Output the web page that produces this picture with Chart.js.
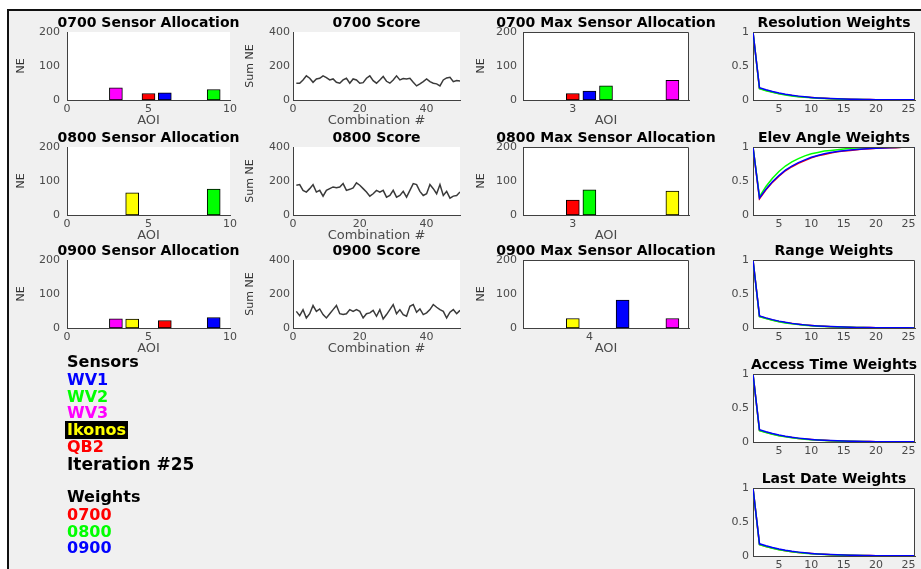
<!DOCTYPE html>
<html>
<head>
<meta charset="UTF-8">
<title>Sensor Allocation - Iteration #25</title>
<script src="https://cdn.jsdelivr.net/npm/chart.js@4.4.1/dist/chart.umd.min.js"></script>
<style>
  html, body { margin: 0; padding: 0; background: #fff; }
  body { width: 921px; height: 569px; position: relative; overflow: hidden; font-family: "DejaVu Sans", sans-serif; }
  #frame { position: absolute; left: 7px; top: 9px; width: 940px; height: 590px; background: #f0f0f0;
           border-left: 2px solid #111; border-top: 2px solid #111; }
  canvas { position: absolute; }
  .txt { position: absolute; left: 67px; font-weight: bold; font-size: 16px; line-height: 18px; white-space: nowrap; }
</style>
</head>
<body>
<div id="frame"></div>
<script>
// ---- data ----
const hours = ['0700', '0800', '0900'];
const sensorNames = ['WV1', 'WV2', 'WV3', 'Ikonos', 'QB2'];
const iteration = 25;
const weightNames = ['Resolution Weights', 'Elev Angle Weights', 'Range Weights', 'Access Time Weights', 'Last Date Weights'];

// sensor allocation per AOI
const alloc0700Aoi = [3, 5, 6, 9];
const alloc0700Ne = [36, 19, 21, 31];
const alloc0700Sensor = ['WV3', 'QB2', 'WV1', 'WV2'];
const alloc0800Aoi = [4, 9];
const alloc0800Ne = [65, 76];
const alloc0800Sensor = ['Ikonos', 'WV2'];
const alloc0900Aoi = [3, 4, 6, 9];
const alloc0900Ne = [27, 26, 22, 31];
const alloc0900Sensor = ['WV3', 'Ikonos', 'QB2', 'WV1'];

// max sensor allocation
const max0700Aoi = [3, 4, 5, 9];
const max0700Ne = [19, 26, 42, 58];
const max0700Sensor = ['QB2', 'WV1', 'WV2', 'WV3'];
const max0800Aoi = [3, 4, 9];
const max0800Ne = [44, 74, 70];
const max0800Sensor = ['QB2', 'WV2', 'Ikonos'];
const max0900Aoi = [3, 6, 9];
const max0900Ne = [28, 82, 28];
const max0900Sensor = ['Ikonos', 'WV1', 'WV3'];

// score per combination
const combos = [1,2,3,4,5,6,7,8,9,10,11,12,13,14,15,16,17,18,19,20,21,22,23,24,25,
                26,27,28,29,30,31,32,33,34,35,36,37,38,39,40,41,42,43,44,45,46,47,48,49,50];
const score0700 = [99, 99, 118, 142, 128, 104, 124, 128, 142, 132, 118, 124, 104, 99, 118, 128, 99, 124, 118, 99,
                   102, 128, 142, 114, 99, 118, 138, 110, 99, 118, 142, 118, 126, 124, 128, 104, 83, 95, 108, 124,
                   108, 99, 95, 83, 118, 130, 134, 108, 114, 112];
const score0800 = [175, 179, 145, 135, 155, 179, 135, 145, 111, 145, 155, 165, 161, 165, 185, 145, 151, 159, 189, 175,
                   155, 135, 111, 125, 145, 135, 145, 105, 115, 145, 105, 115, 139, 105, 145, 185, 179, 139, 115, 125,
                   179, 155, 125, 179, 115, 139, 99, 111, 115, 135];
const score0900 = [98, 73, 108, 59, 84, 132, 98, 112, 79, 59, 84, 108, 132, 84, 79, 84, 108, 98, 108, 98,
                   59, 84, 89, 104, 69, 108, 53, 79, 108, 138, 84, 108, 79, 69, 128, 138, 93, 112, 79, 89,
                   108, 138, 122, 108, 98, 59, 93, 108, 84, 104];

// weights (0700 red, 0800 green, 0900 blue)
const wIdx = [1,2,3,4,5,6,7,8,9,10,11,12,13,14,15,16,17,18,19,20,21,22,23,24,25,26];
const resRed   = [1, 0.170, 0.142, 0.117, 0.096, 0.079, 0.065, 0.053, 0.044, 0.036, 0.029, 0.024, 0.020, 0.016, 0.013, 0.011, 0.009, 0.007, 0.006, 0.005, 0.004, 0.003, 0.003, 0.002, 0.002, 0.001];
const resGreen = [1, 0.165, 0.137, 0.112, 0.091, 0.074, 0.060, 0.049, 0.040, 0.033, 0.027, 0.022, 0.018, 0.014, 0.012, 0.009, 0.008, 0.006, 0.005, 0.004, 0.003, 0.003, 0.002, 0.002, 0.001, 0.001];
const resBlue  = [1, 0.180, 0.150, 0.124, 0.102, 0.084, 0.069, 0.057, 0.047, 0.038, 0.031, 0.026, 0.021, 0.017, 0.014, 0.012, 0.010, 0.008, 0.006, 0.005, 0.004, 0.004, 0.003, 0.002, 0.002, 0.002];
const elevRed   = [1, 0.24, 0.37, 0.48, 0.57, 0.65, 0.71, 0.76, 0.80, 0.84, 0.87, 0.89, 0.91, 0.93, 0.94, 0.95, 0.96, 0.97, 0.975, 0.98, 0.985, 0.99, 0.99, 0.995, 0.995, 1];
const elevGreen = [1, 0.27, 0.42, 0.54, 0.64, 0.72, 0.78, 0.83, 0.87, 0.90, 0.92, 0.94, 0.95, 0.96, 0.97, 0.98, 0.985, 0.99, 0.99, 0.995, 0.995, 1, 1, 1, 1, 1];
const elevBlue  = [1, 0.25, 0.38, 0.49, 0.58, 0.66, 0.72, 0.77, 0.81, 0.85, 0.875, 0.90, 0.92, 0.935, 0.945, 0.955, 0.965, 0.972, 0.978, 0.983, 0.987, 0.99, 0.993, 0.995, 0.997, 1];
const rangeRed   = [1, 0.172, 0.143, 0.118, 0.097, 0.080, 0.066, 0.054, 0.044, 0.036, 0.030, 0.024, 0.020, 0.016, 0.013, 0.011, 0.009, 0.007, 0.006, 0.005, 0.004, 0.003, 0.003, 0.002, 0.002, 0.001];
const rangeGreen = [1, 0.166, 0.138, 0.113, 0.092, 0.075, 0.061, 0.050, 0.041, 0.033, 0.027, 0.022, 0.018, 0.015, 0.012, 0.010, 0.008, 0.006, 0.005, 0.004, 0.003, 0.003, 0.002, 0.002, 0.001, 0.001];
const rangeBlue  = [1, 0.178, 0.149, 0.123, 0.101, 0.083, 0.068, 0.056, 0.046, 0.038, 0.031, 0.025, 0.021, 0.017, 0.014, 0.011, 0.009, 0.008, 0.006, 0.005, 0.004, 0.003, 0.003, 0.002, 0.002, 0.001];
const accRed   = [1, 0.171, 0.142, 0.117, 0.096, 0.079, 0.065, 0.053, 0.044, 0.036, 0.029, 0.024, 0.020, 0.016, 0.013, 0.011, 0.009, 0.007, 0.006, 0.005, 0.004, 0.003, 0.003, 0.002, 0.002, 0.001];
const accGreen = [1, 0.168, 0.139, 0.114, 0.093, 0.076, 0.062, 0.051, 0.042, 0.034, 0.028, 0.023, 0.019, 0.015, 0.012, 0.010, 0.008, 0.007, 0.005, 0.004, 0.004, 0.003, 0.002, 0.002, 0.002, 0.001];
const accBlue  = [1, 0.180, 0.150, 0.124, 0.102, 0.084, 0.069, 0.057, 0.047, 0.038, 0.031, 0.026, 0.021, 0.017, 0.014, 0.012, 0.010, 0.008, 0.006, 0.005, 0.004, 0.004, 0.003, 0.002, 0.002, 0.002];
const lastRed   = [1, 0.170, 0.141, 0.116, 0.095, 0.078, 0.064, 0.052, 0.043, 0.035, 0.029, 0.024, 0.019, 0.016, 0.013, 0.011, 0.009, 0.007, 0.006, 0.005, 0.004, 0.003, 0.003, 0.002, 0.002, 0.001];
const lastGreen = [1, 0.167, 0.139, 0.114, 0.093, 0.076, 0.062, 0.051, 0.042, 0.034, 0.028, 0.023, 0.019, 0.015, 0.012, 0.010, 0.008, 0.007, 0.005, 0.004, 0.004, 0.003, 0.002, 0.002, 0.002, 0.001];
const lastBlue  = [1, 0.179, 0.150, 0.124, 0.102, 0.084, 0.069, 0.057, 0.047, 0.038, 0.031, 0.026, 0.021, 0.017, 0.014, 0.012, 0.010, 0.008, 0.006, 0.005, 0.004, 0.004, 0.003, 0.002, 0.002, 0.002];

// tick labels
const allocXTicks = [0, 5, 10];
const allocYTicks = [0, 100, 200];
const scoreXTicks = [0, 20, 40];
const scoreYTicks = [0, 200, 400];
const maxXTicks0700 = [3];
const maxXTicks0800 = [3];
const maxXTicks0900 = [4];
const weightXTicks = [5, 10, 15, 20, 25];
const weightYTicks = [0, 0.5, 1];

// ---- styles ----
const SENSOR_COLORS = { WV1: '#0000ff', WV2: '#00ff00', WV3: '#ff00ff', Ikonos: '#ffff00', QB2: '#ff0000' };
const HOUR_COLORS = ['#ff0000', '#00ff00', '#0000ff'];
const TEXT_GRAY = '#4a4a4a';
const AXIS = '#404040';

Chart.defaults.font.family = '"DejaVu Sans", sans-serif';

// white plot background, title over the plot area, optional box
const panelPlugin = {
  id: 'panel',
  beforeDraw(chart) {
    const a = chart.chartArea, ctx = chart.ctx;
    ctx.save();
    ctx.fillStyle = '#fff';
    ctx.fillRect(a.left, a.top, a.right - a.left, a.bottom - a.top);
    ctx.restore();
  },
  afterDraw(chart, args, opts) {
    const a = chart.chartArea, ctx = chart.ctx;
    ctx.save();
    if (opts.box) {
      ctx.strokeStyle = AXIS;
      ctx.lineWidth = 1;
      ctx.beginPath();
      ctx.moveTo(a.left, a.top + 0.5);
      ctx.lineTo(a.right - 0.5, a.top + 0.5);
      ctx.lineTo(a.right - 0.5, a.bottom);
      ctx.stroke();
    }
    ctx.fillStyle = '#000';
    ctx.font = 'bold 14px "DejaVu Sans"';
    ctx.textAlign = 'center';
    ctx.textBaseline = 'middle';
    ctx.fillText(opts.title, (a.left + a.right) / 2, a.top - 9);
    ctx.restore();
  }
};

function addCanvas(left, top, w, h) {
  const c = document.createElement('canvas');
  c.width = w; c.height = h;
  c.style.left = left + 'px';
  c.style.top = top + 'px';
  document.body.appendChild(c);
  return c;
}

function makePanel(p) {
  const [l, t, r, b] = p.plot;
  const W = p.yw + (r - l) + 30, H = 17 + (b - t) + p.xh;
  const canvas = addCanvas(l - p.yw, t - 17, W, H);
  new Chart(canvas, {
    type: p.type,
    data: { datasets: p.datasets },
    plugins: [panelPlugin],
    options: {
      responsive: false, animation: false, devicePixelRatio: 1,
      layout: { padding: { top: 17, right: 30, left: 0, bottom: 0 } },
      plugins: { legend: { display: false }, tooltip: { enabled: false }, panel: { title: p.title, box: p.box } },
      scales: {
        x: {
          type: 'linear', min: p.xMin, max: p.xMax, offset: false,
          grid: { display: false, drawTicks: false },
          border: { display: true, color: AXIS, width: 1 },
          afterBuildTicks: s => { s.ticks = p.xTicks.map(v => ({ value: v })); },
          afterFit: s => { s.height = p.xh; },
          ticks: { color: TEXT_GRAY, font: { size: 11 }, padding: 3, maxRotation: 0, autoSkip: false,
                   callback: v => String(v) },
          title: { display: !!p.xTitle, text: p.xTitle || '', color: TEXT_GRAY, font: { size: 13 }, padding: { top: 0, bottom: 0 } }
        },
        y: {
          min: p.yMin, max: p.yMax,
          grid: { display: false, drawTicks: false },
          border: { display: true, color: AXIS, width: 1 },
          afterBuildTicks: s => { s.ticks = p.yTicks.map(v => ({ value: v })); },
          afterFit: s => { s.width = p.yw; },
          ticks: { color: TEXT_GRAY, font: { size: 11 }, padding: p.yTickPad, callback: v => String(v) },
          title: { display: !!p.yTitle, text: p.yTitle || '', color: '#333', font: { size: 11 }, padding: { top: p.yTitlePad || 0, bottom: 0 } }
        }
      }
    }
  });
}

function barSet(aoi, ne, sensors) {
  return [{
    data: aoi.map((x, i) => ({ x: x, y: ne[i] })),
    backgroundColor: sensors.map(s => SENSOR_COLORS[s]),
    borderColor: '#000', borderWidth: 1, borderSkipped: false, barThickness: 13
  }];
}

function scoreSet(vals) {
  return [{
    data: combos.map((x, i) => ({ x: x, y: vals[i] })),
    borderColor: '#3a3a3a', borderWidth: 1.5, pointRadius: 0, tension: 0, fill: false
  }];
}

// red drawn first, blue last (on top)
function weightSets(series) {
  return series.map((vals, k) => ({
    data: wIdx.map((x, i) => ({ x: x, y: vals[i] })),
    borderColor: HOUR_COLORS[k], borderWidth: 1.5, pointRadius: 0, tension: 0, fill: false,
    order: series.length - 1 - k
  }));
}

// ---- layout ----
const rowTop = [32, 147, 260];
const rowBottom = [100, 215, 328];
const allocData = [[alloc0700Aoi, alloc0700Ne, alloc0700Sensor], [alloc0800Aoi, alloc0800Ne, alloc0800Sensor], [alloc0900Aoi, alloc0900Ne, alloc0900Sensor]];
const maxData = [[max0700Aoi, max0700Ne, max0700Sensor], [max0800Aoi, max0800Ne, max0800Sensor], [max0900Aoi, max0900Ne, max0900Sensor]];
const maxTicks = [maxXTicks0700, maxXTicks0800, maxXTicks0900];
const scores = [score0700, score0800, score0900];

hours.forEach((h, i) => {
  makePanel({
    plot: [67, rowTop[i], 230, rowBottom[i]], yw: 60, xh: 28, type: 'bar',
    title: h + ' Sensor Allocation', box: false,
    datasets: barSet(...allocData[i]),
    xMin: 0, xMax: 10, xTicks: allocXTicks, xTitle: 'AOI',
    yMin: 0, yMax: 200, yTicks: allocYTicks, yTitle: 'NE', yTitlePad: 8, yTickPad: 7
  });
  makePanel({
    plot: [293, rowTop[i], 460, rowBottom[i]], yw: 60, xh: 28, type: 'line',
    title: h + ' Score', box: false,
    datasets: scoreSet(scores[i]),
    xMin: 0, xMax: 50, xTicks: scoreXTicks, xTitle: 'Combination #',
    yMin: 0, yMax: 400, yTicks: scoreYTicks, yTitle: 'Sum NE', yTitlePad: 11, yTickPad: 3
  });
  makePanel({
    plot: [523, rowTop[i], 689, rowBottom[i]], yw: 60, xh: 28, type: 'bar',
    title: h + ' Max Sensor Allocation', box: true,
    datasets: barSet(...maxData[i]),
    xMin: 0, xMax: 10, xTicks: maxTicks[i], xTitle: 'AOI',
    yMin: 0, yMax: 200, yTicks: allocYTicks, yTitle: 'NE', yTitlePad: 12, yTickPad: 6
  });
});

const wTop = [32, 147, 260, 374, 488];
const wBottom = [100, 215, 328, 442, 556];
const weightData = [[resRed, resGreen, resBlue], [elevRed, elevGreen, elevBlue], [rangeRed, rangeGreen, rangeBlue],
                    [accRed, accGreen, accBlue], [lastRed, lastGreen, lastBlue]];
weightNames.forEach((name, i) => {
  makePanel({
    plot: [753, wTop[i], 915, wBottom[i]], yw: 40, xh: 20, type: 'line',
    title: name, box: true,
    datasets: weightSets(weightData[i]),
    xMin: 1, xMax: 26, xTicks: weightXTicks,
    yMin: 0, yMax: 1, yTicks: weightYTicks, yTickPad: 4
  });
});

// ---- text annotations ----
function addText(text, cy, color, extra) {
  const d = document.createElement('div');
  d.className = 'txt';
  d.style.top = (cy - 9) + 'px';
  d.style.color = color;
  if (extra) Object.assign(d.style, extra);
  d.textContent = text;
  document.body.appendChild(d);
  return d;
}
addText('Sensors', 362, '#000');
const sensorY = [380, 397, 413, 430, 447];
sensorNames.forEach((s, i) => {
  const d = addText(s, sensorY[i], SENSOR_COLORS[s]);
  if (s === 'Ikonos') { d.style.background = '#000'; d.style.left = '65px'; d.style.padding = '0 2px'; }
});
addText('Iteration #' + iteration, 464, '#000', { fontSize: '17px' });
addText('Weights', 497, '#000');
const hourY = [515, 532, 548];
hours.forEach((h, i) => addText(h, hourY[i], HOUR_COLORS[i]));
</script>
</body>
</html>
